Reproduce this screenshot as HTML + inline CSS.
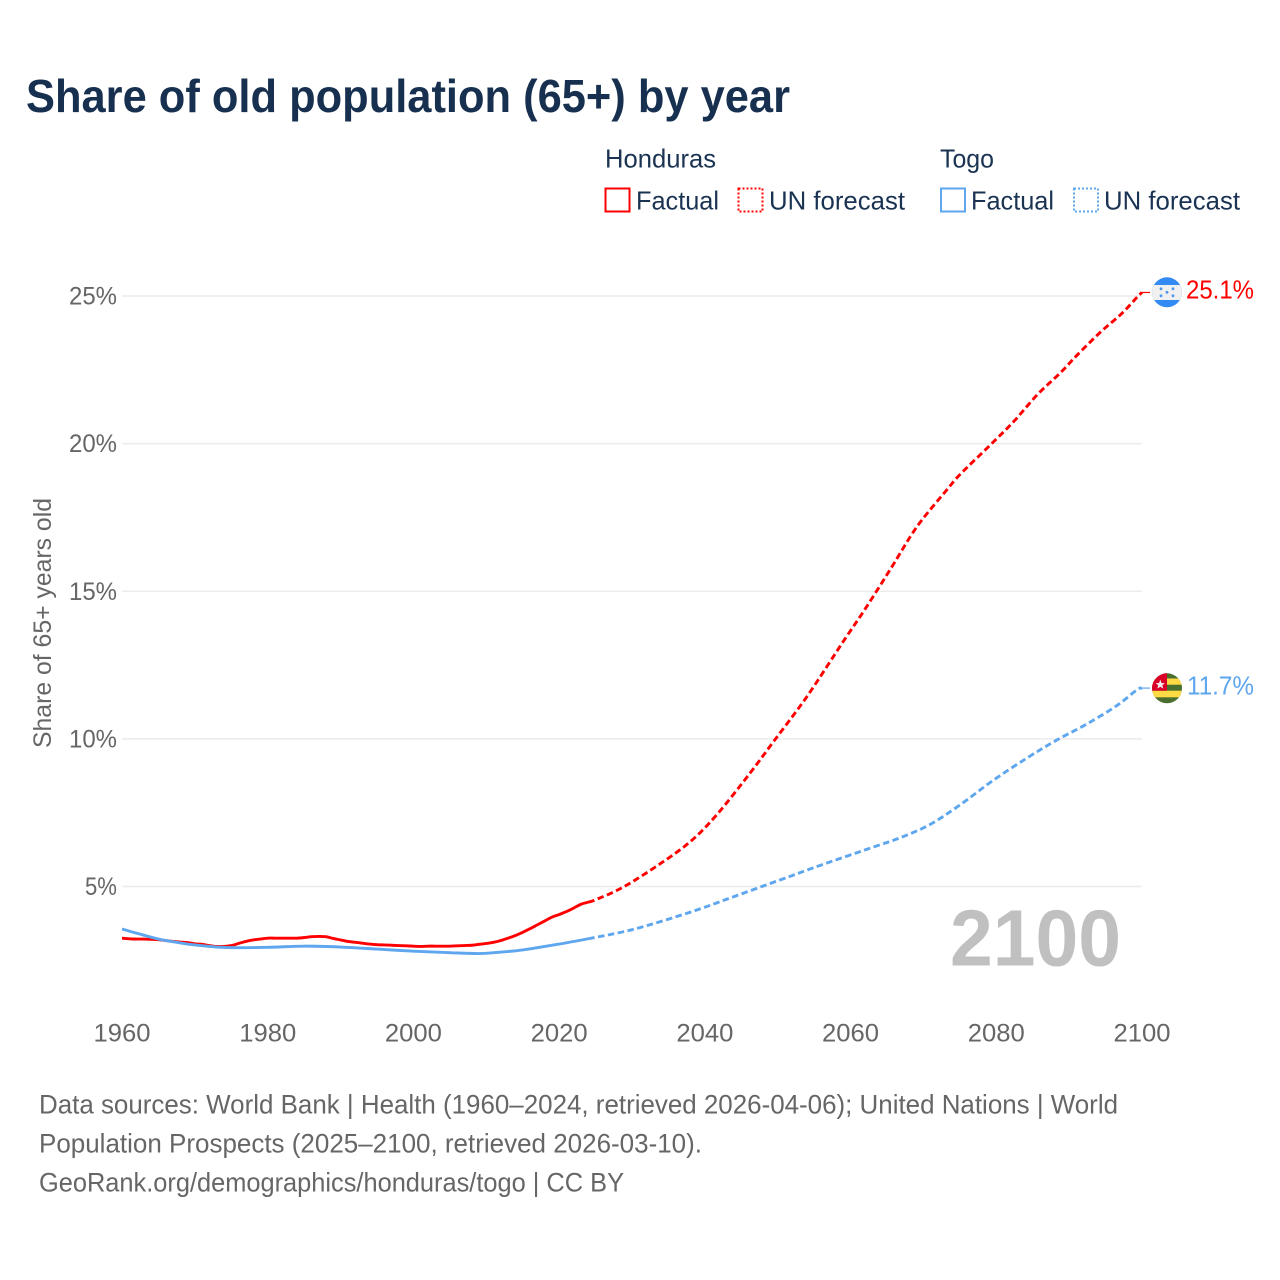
<!DOCTYPE html>
<html lang="en">
<head>
<meta charset="utf-8">
<title>Share of old population (65+) by year</title>
<style>
html,body{margin:0;padding:0;background:#fff;}
svg{display:block;}
text{font-family:"Liberation Sans",sans-serif;}
</style>
</head>
<body>
<svg id="chart" xmlns="http://www.w3.org/2000/svg" width="1280" height="1280" viewBox="0 0 1280 1280">
  <defs>
    <clipPath id="hn-clip"><circle cx="1167" cy="292.3" r="15"/></clipPath>
    <clipPath id="tg-clip"><circle cx="1167" cy="688.3" r="15"/></clipPath>
  </defs>
  <rect x="0" y="0" width="1280" height="1280" fill="#fff"/>
  <text x="26" y="112" font-size="46" font-weight="700" fill="#17304f" textLength="764" lengthAdjust="spacingAndGlyphs">Share of old population (65+) by year</text>

  <g font-size="26" fill="#1a3352">
    <text x="605" y="167.5" textLength="111" lengthAdjust="spacingAndGlyphs">Honduras</text>
    <rect x="605.5" y="188.5" width="24" height="23" fill="none" stroke="#ff0000" stroke-width="2"/>
    <text x="636" y="209.5" textLength="83" lengthAdjust="spacingAndGlyphs">Factual</text>
    <rect x="738.5" y="188.5" width="24" height="23" fill="none" stroke="#ff0000" stroke-width="2" stroke-dasharray="2 2"/>
    <text x="769" y="209.5" textLength="136" lengthAdjust="spacingAndGlyphs">UN forecast</text>
    <text x="940" y="167.5" textLength="54" lengthAdjust="spacingAndGlyphs">Togo</text>
    <rect x="941" y="188.5" width="24" height="23" fill="none" stroke="#5ea6ee" stroke-width="2"/>
    <text x="971" y="209.5" textLength="83" lengthAdjust="spacingAndGlyphs">Factual</text>
    <rect x="1074" y="188.5" width="24" height="23" fill="none" stroke="#5ea6ee" stroke-width="2" stroke-dasharray="2 2"/>
    <text x="1104" y="209.5" textLength="136" lengthAdjust="spacingAndGlyphs">UN forecast</text>
  </g>

  <g id="grid"></g>
  <g id="yticks"></g>
  <g id="xticks"></g>
  <text transform="translate(51,748) rotate(-90)" font-size="25" fill="#666" textLength="250" lengthAdjust="spacingAndGlyphs">Share of 65+ years old</text>

  <text x="950" y="965.5" font-size="80" font-weight="700" fill="#c0c0c0" textLength="171" lengthAdjust="spacingAndGlyphs">2100</text>

  <g id="series"></g>

  <g clip-path="url(#hn-clip)">
    <rect x="1150" y="276" width="34" height="34" fill="#338af3"/>
    <rect x="1150" y="285" width="34" height="15" fill="#f0f0f0"/>
    <g fill="#4a94ee">
      <circle cx="1161" cy="288.8" r="1.4"/><circle cx="1173" cy="288.8" r="1.4"/>
      <circle cx="1167" cy="292.3" r="1.4"/>
      <circle cx="1161" cy="295.8" r="1.4"/><circle cx="1173" cy="295.8" r="1.4"/>
    </g>
  </g>
  <g clip-path="url(#tg-clip)">
    <rect x="1150" y="672" width="34" height="34" fill="#496e2d"/>
    <rect x="1150" y="678.5" width="34" height="6.2" fill="#ffda44"/>
    <rect x="1150" y="690.7" width="34" height="6.6" fill="#ffda44"/>
    <rect x="1150" y="672" width="17" height="18.7" fill="#d80027"/>
    <polygon points="1160.3,679.6 1161.6,683.1 1165,683.1 1162.3,685.3 1163.3,688.6 1160.3,686.7 1157.3,688.6 1158.3,685.3 1155.6,683.1 1159,683.1" fill="#f0f0f0"/>
  </g>

  <text id="label-hn" x="1186" y="298.5" font-size="26" fill="#ff0000" textLength="68" lengthAdjust="spacingAndGlyphs"></text>
  <text id="label-tg" x="1187" y="694.5" font-size="26" fill="#5ea6ee" textLength="67" lengthAdjust="spacingAndGlyphs"></text>

  <g font-size="27" fill="#666">
    <text x="39" y="1113.5" textLength="1079" lengthAdjust="spacingAndGlyphs">Data sources: World Bank | Health (1960–2024, retrieved 2026-04-06); United Nations | World</text>
    <text x="39" y="1152.5" textLength="663" lengthAdjust="spacingAndGlyphs">Population Prospects (2025–2100, retrieved 2026-03-10).</text>
    <text x="39" y="1191.5" textLength="585" lengthAdjust="spacingAndGlyphs">GeoRank.org/demographics/honduras/togo | CC BY</text>
  </g>
</svg>
<script>
const yTickValues = [5, 10, 15, 20, 25];
const yTickLabels = ["5%", "10%", "15%", "20%", "25%"];
const xTickYears = [1960, 1980, 2000, 2020, 2040, 2060, 2080, 2100];
const xTickLabels = ["1960", "1980", "2000", "2020", "2040", "2060", "2080", "2100"];

const hondurasFactualYears = [1960,1961,1962,1963,1964,1965,1966,1967,1968,1969,1970,1971,1972,1973,1974,1975,1976,1977,1978,1979,1980,1981,1982,1983,1984,1985,1986,1987,1988,1989,1990,1991,1992,1993,1994,1995,1996,1997,1998,1999,2000,2001,2002,2003,2004,2005,2006,2007,2008,2009,2010,2011,2012,2013,2014,2015,2016,2017,2018,2019,2020,2021,2022,2023,2024];
const hondurasFactualValues = [3.25,3.23,3.22,3.22,3.21,3.2,3.17,3.14,3.12,3.1,3.06,3.04,3.0,2.97,2.97,3.0,3.07,3.14,3.19,3.22,3.25,3.25,3.25,3.25,3.25,3.27,3.3,3.31,3.3,3.24,3.19,3.14,3.11,3.08,3.05,3.03,3.02,3.01,3.0,2.99,2.98,2.97,2.98,2.98,2.98,2.98,2.99,3.0,3.01,3.04,3.07,3.11,3.17,3.25,3.34,3.45,3.57,3.7,3.83,3.96,4.05,4.15,4.27,4.4,4.47];
const hondurasForecastYears = [2024,2025,2028.8,2033.8,2038,2041.6,2046.2,2049.4,2054,2059,2062,2065.6,2068.2,2070,2073.2,2075,2079.2,2082.4,2085.6,2088.8,2091.1,2094.4,2097.2,2099.4,2100];
const hondurasForecastValues = [4.47,4.55,4.98,5.76,6.52,7.42,8.84,9.9,11.43,13.3,14.4,15.8,16.85,17.48,18.43,18.95,19.96,20.75,21.65,22.4,23.0,23.8,24.4,24.98,25.12];

const togoFactualYears = [1960,1962,1965,1968,1970,1973,1975,1980,1985,1990,1995,2000,2005,2009,2012,2015,2020,2024];
const togoFactualValues = [3.56,3.42,3.22,3.09,3.02,2.95,2.93,2.94,2.98,2.95,2.88,2.81,2.76,2.73,2.78,2.85,3.05,3.23];
const togoForecastYears = [2024,2030.2,2038,2043.9,2050.3,2056,2062.7,2066.8,2070.9,2075,2079.6,2084.2,2088.3,2092.4,2096.5,2099.3,2100];
const togoForecastValues = [3.23,3.55,4.13,4.65,5.22,5.73,6.3,6.65,7.1,7.76,8.6,9.35,9.96,10.5,11.12,11.66,11.72];

const hondurasEndLabel = "25.1%";
const togoEndLabel = "11.7%";

const SVGNS = "http://www.w3.org/2000/svg";
function xScale(year) { return 122 + (year - 1960) * (1142 - 122) / 140; }
function yScale(value) { return 886.5 - (value - 5) * (886.5 - 296) / 20; }

function smoothPath(years, values) {
  const p = years.map(function (yr, i) { return [xScale(yr), yScale(values[i])]; });
  let d = "M" + p[0][0].toFixed(2) + " " + p[0][1].toFixed(2);
  for (let i = 0; i < p.length - 1; i++) {
    const a = p[Math.max(i - 1, 0)], b = p[i], c = p[i + 1], e = p[Math.min(i + 2, p.length - 1)];
    const c1x = b[0] + (c[0] - a[0]) / 6, c1y = b[1] + (c[1] - a[1]) / 6;
    const c2x = c[0] - (e[0] - b[0]) / 6, c2y = c[1] - (e[1] - b[1]) / 6;
    d += "C" + c1x.toFixed(2) + " " + c1y.toFixed(2) + " " + c2x.toFixed(2) + " " + c2y.toFixed(2) + " " + c[0].toFixed(2) + " " + c[1].toFixed(2);
  }
  return d;
}

const gridG = document.getElementById("grid");
const yG = document.getElementById("yticks");
yTickValues.forEach(function (v, i) {
  const line = document.createElementNS(SVGNS, "line");
  
  
  line.setAttribute("x1", xScale(1960));
  line.setAttribute("x2", xScale(2100));
  line.setAttribute("y1", yScale(v));
  line.setAttribute("y2", yScale(v));
  line.setAttribute("stroke", "#ececec");
  line.setAttribute("stroke-width", "1.5");
  gridG.appendChild(line);
  const t = document.createElementNS(SVGNS, "text");
  
  
  t.setAttribute("x", 117);
  t.setAttribute("y", yScale(v) + 8.5);
  t.setAttribute("text-anchor", "end");
  t.setAttribute("font-size", "25");
  t.setAttribute("fill", "#666");
  t.setAttribute("textLength", String(yTickLabels[i].length * 16));
  t.setAttribute("lengthAdjust", "spacingAndGlyphs");
  t.textContent = yTickLabels[i];
  yG.appendChild(t);
});

const xG = document.getElementById("xticks");
xTickYears.forEach(function (yr, i) {
  const t = document.createElementNS(SVGNS, "text");
  
  
  t.setAttribute("x", xScale(yr));
  t.setAttribute("y", 1041.5);
  t.setAttribute("text-anchor", "middle");
  t.setAttribute("font-size", "25");
  t.setAttribute("fill", "#666");
  t.setAttribute("textLength", "57");
  t.setAttribute("lengthAdjust", "spacingAndGlyphs");
  t.textContent = xTickLabels[i];
  xG.appendChild(t);
});

const sG = document.getElementById("series");
function addLine(name, years, values, color, dashed) {
  const path = document.createElementNS(SVGNS, "path");
  
  
  path.setAttribute("d", smoothPath(years, values));
  path.setAttribute("fill", "none");
  path.setAttribute("stroke", color);
  path.setAttribute("stroke-width", "2.9");
  path.setAttribute("stroke-linejoin", "round");
  if (dashed) path.setAttribute("stroke-dasharray", "6.5 3.5");
  sG.appendChild(path);
}
function addLeader(name, value, color) {
  const line = document.createElementNS(SVGNS, "line");
  
  
  line.setAttribute("x1", xScale(2100));
  line.setAttribute("x2", xScale(2100) + 8);
  line.setAttribute("y1", yScale(value));
  line.setAttribute("y2", yScale(value));
  line.setAttribute("stroke", color);
  line.setAttribute("stroke-width", "1.2");
  sG.appendChild(line);
}
addLine("honduras-forecast-line", hondurasForecastYears, hondurasForecastValues, "#ff0000", true);
addLine("togo-forecast-line", togoForecastYears, togoForecastValues, "#5ea6ee", true);
addLine("honduras-factual-line", hondurasFactualYears, hondurasFactualValues, "#ff0000", false);
addLine("togo-factual-line", togoFactualYears, togoFactualValues, "#5ea6ee", false);
addLeader("honduras-leader-line", hondurasForecastValues[hondurasForecastValues.length - 1], "#ff0000");
addLeader("togo-leader-line", togoForecastValues[togoForecastValues.length - 1], "#5ea6ee");

document.getElementById("label-hn").textContent = hondurasEndLabel;
document.getElementById("label-tg").textContent = togoEndLabel;
</script>
</body>
</html>
